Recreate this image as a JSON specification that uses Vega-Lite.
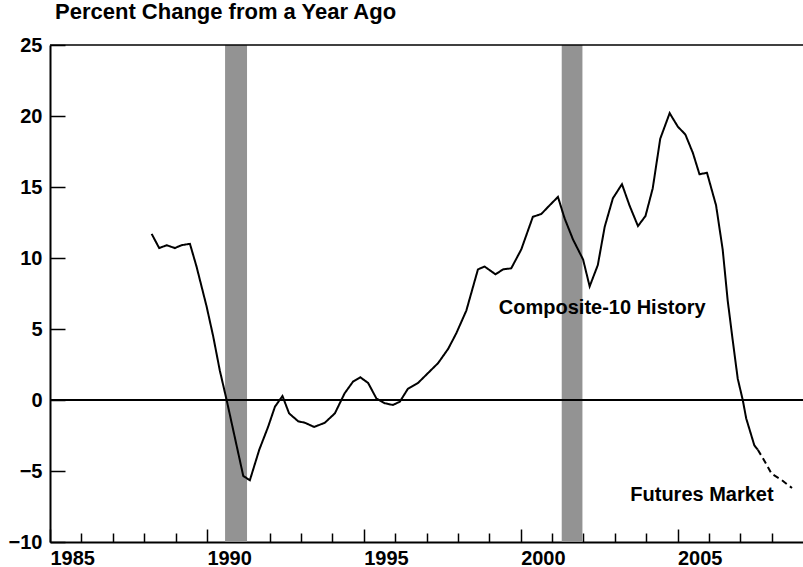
{
  "$schema": "https://vega.github.io/schema/vega-lite/v6.json",
  "width": 753,
  "height": 497,
  "autosize": {"type": "none"},
  "padding": {"left": 50, "top": 45, "right": 0, "bottom": 25},
  "background": "white",
  "title": {
    "text": "Percent Change from a Year Ago",
    "anchor": "start",
    "frame": "group",
    "fontSize": 22,
    "font": "Liberation Sans",
    "fontWeight": "bold",
    "color": "black",
    "dx": 5,
    "offset": 11
  },
  "config": {
    "view": {"stroke": null},
    "axis": {
      "labelFont": "Liberation Sans",
      "labelFontWeight": "bold",
      "labelFontSize": 20,
      "labelColor": "black",
      "domainColor": "black",
      "tickColor": "black",
      "grid": false,
      "title": null,
      "zindex": 1
    }
  },
  "datasets": {
    "recessions": [
      {"start": 1990.58, "end": 1991.28},
      {"start": 2001.31, "end": 2001.97}
    ],
    "hpi": [
      {"year": 1988.24, "value": 11.7, "series": "History"},
      {"year": 1988.48, "value": 10.7, "series": "History"},
      {"year": 1988.72, "value": 10.9, "series": "History"},
      {"year": 1988.98, "value": 10.7, "series": "History"},
      {"year": 1989.19, "value": 10.9, "series": "History"},
      {"year": 1989.46, "value": 11.0, "series": "History"},
      {"year": 1989.67, "value": 9.4, "series": "History"},
      {"year": 1989.99, "value": 6.6, "series": "History"},
      {"year": 1990.2, "value": 4.5, "series": "History"},
      {"year": 1990.41, "value": 2.1, "series": "History"},
      {"year": 1990.63, "value": 0.0, "series": "History"},
      {"year": 1991.16, "value": -5.35, "series": "History"},
      {"year": 1991.37, "value": -5.65, "series": "History"},
      {"year": 1991.67, "value": -3.5, "series": "History"},
      {"year": 1991.95, "value": -1.9, "series": "History"},
      {"year": 1992.17, "value": -0.47, "series": "History"},
      {"year": 1992.41, "value": 0.28, "series": "History"},
      {"year": 1992.62, "value": -0.94, "series": "History"},
      {"year": 1992.91, "value": -1.5, "series": "History"},
      {"year": 1993.12, "value": -1.6, "series": "History"},
      {"year": 1993.42, "value": -1.9, "series": "History"},
      {"year": 1993.76, "value": -1.6, "series": "History"},
      {"year": 1994.08, "value": -0.94, "series": "History"},
      {"year": 1994.39, "value": 0.47, "series": "History"},
      {"year": 1994.66, "value": 1.3, "series": "History"},
      {"year": 1994.89, "value": 1.6, "series": "History"},
      {"year": 1995.14, "value": 1.2, "series": "History"},
      {"year": 1995.4, "value": 0.12, "series": "History"},
      {"year": 1995.67, "value": -0.23, "series": "History"},
      {"year": 1995.93, "value": -0.35, "series": "History"},
      {"year": 1996.15, "value": -0.12, "series": "History"},
      {"year": 1996.41, "value": 0.8, "series": "History"},
      {"year": 1996.73, "value": 1.2, "series": "History"},
      {"year": 1997.05, "value": 1.9, "series": "History"},
      {"year": 1997.37, "value": 2.6, "series": "History"},
      {"year": 1997.69, "value": 3.6, "series": "History"},
      {"year": 1997.95, "value": 4.7, "series": "History"},
      {"year": 1998.27, "value": 6.3, "series": "History"},
      {"year": 1998.64, "value": 9.2, "series": "History"},
      {"year": 1998.85, "value": 9.4, "series": "History"},
      {"year": 1999.2, "value": 8.85, "series": "History"},
      {"year": 1999.44, "value": 9.2, "series": "History"},
      {"year": 1999.7, "value": 9.27, "series": "History"},
      {"year": 2000.02, "value": 10.6, "series": "History"},
      {"year": 2000.39, "value": 12.9, "series": "History"},
      {"year": 2000.66, "value": 13.1, "series": "History"},
      {"year": 2000.92, "value": 13.7, "series": "History"},
      {"year": 2001.19, "value": 14.3, "series": "History"},
      {"year": 2001.4, "value": 12.8, "series": "History"},
      {"year": 2001.67, "value": 11.3, "series": "History"},
      {"year": 2001.99, "value": 9.9, "series": "History"},
      {"year": 2002.2, "value": 8.0, "series": "History"},
      {"year": 2002.46, "value": 9.5, "series": "History"},
      {"year": 2002.68, "value": 12.2, "series": "History"},
      {"year": 2002.94, "value": 14.2, "series": "History"},
      {"year": 2003.23, "value": 15.2, "series": "History"},
      {"year": 2003.47, "value": 13.7, "series": "History"},
      {"year": 2003.74, "value": 12.25, "series": "History"},
      {"year": 2003.98, "value": 12.96, "series": "History"},
      {"year": 2004.21, "value": 14.9, "series": "History"},
      {"year": 2004.45, "value": 18.4, "series": "History"},
      {"year": 2004.75, "value": 20.2, "series": "History"},
      {"year": 2005.01, "value": 19.25, "series": "History"},
      {"year": 2005.25, "value": 18.7, "series": "History"},
      {"year": 2005.49, "value": 17.4, "series": "History"},
      {"year": 2005.7, "value": 15.9, "series": "History"},
      {"year": 2005.94, "value": 16.0, "series": "History"},
      {"year": 2006.23, "value": 13.7, "series": "History"},
      {"year": 2006.44, "value": 10.6, "series": "History"},
      {"year": 2006.6, "value": 7.0, "series": "History"},
      {"year": 2006.76, "value": 4.2, "series": "History"},
      {"year": 2006.92, "value": 1.5, "series": "History"},
      {"year": 2007.08, "value": 0.0, "series": "History"},
      {"year": 2007.19, "value": -1.3, "series": "History"},
      {"year": 2007.45, "value": -3.2, "series": "History"},
      {"year": 2007.56, "value": -3.5, "series": "History"},
      {"year": 2007.56, "value": -3.5, "series": "Futures"},
      {"year": 2007.8, "value": -4.4, "series": "Futures"},
      {"year": 2008.0, "value": -5.2, "series": "Futures"},
      {"year": 2008.3, "value": -5.6, "series": "Futures"},
      {"year": 2008.65, "value": -6.2, "series": "Futures"}
    ]
  },
  "layer": [
    {
      "data": {"name": "recessions"},
      "mark": {"type": "rect", "color": "#939393"},
      "encoding": {
        "x": {
          "field": "start",
          "type": "quantitative",
          "scale": {"domain": [1985, 2009], "nice": false, "zero": false},
          "axis": {
            "orient": "bottom",
            "values": [1986, 1987, 1988, 1989, 1991, 1992, 1993, 1994, 1996, 1997, 1998, 1999, 2001, 2002, 2003, 2004, 2006, 2007, 2008],
            "tickSize": -9,
            "tickWidth": 1.5,
            "labels": false,
            "domain": false
          }
        },
        "x2": {"field": "end"}
      }
    },
    {
      "data": {"values": [{}]},
      "mark": {"type": "rule", "color": "black", "strokeWidth": 2},
      "encoding": {"y": {"datum": 0}}
    },
    {
      "data": {"values": [{}]},
      "mark": {"type": "rule", "color": "black", "strokeWidth": 1.5},
      "encoding": {"y": {"datum": 25}}
    },
    {
      "data": {"name": "hpi"},
      "mark": {"type": "line", "color": "black", "strokeWidth": 2},
      "encoding": {
        "x": {
          "field": "year",
          "type": "quantitative",
          "scale": {"domain": [1985, 2009], "nice": false, "zero": false},
          "axis": {
            "orient": "bottom",
            "values": [1985, 1990, 1995, 2000, 2005],
            "format": "d",
            "tickSize": -13,
            "tickWidth": 1.5,
            "domainWidth": 2,
            "labelAlign": "left",
            "labelDx": -7,
            "labelFlush": false,
            "labelPadding": 19,
            "labelBaseline": "top"
          }
        },
        "y": {
          "field": "value",
          "type": "quantitative",
          "scale": {"domain": [-10, 25], "nice": false, "zero": false},
          "axis": {
            "values": [-10, -5, 0, 5, 10, 15, 20, 25],
            "tickSize": -15,
            "tickWidth": 1.5,
            "domainWidth": 2,
            "labelFlush": false,
            "labelPadding": 23,
            "labelAlign": "right",
            "labelBaseline": "middle"
          }
        },
        "strokeDash": {
          "field": "series",
          "type": "nominal",
          "scale": {"domain": ["History", "Futures"], "range": [[1, 0], [6, 4]]},
          "legend": null
        }
      }
    },
    {
      "data": {"values": [{}]},
      "mark": {"type": "text", "font": "Liberation Sans", "fontWeight": "bold", "fontSize": 20, "color": "black", "align": "center", "baseline": "middle"},
      "encoding": {
        "x": {"datum": 2002.6, "axis": null},
        "y": {"datum": 6.5},
        "text": {"value": "Composite-10 History"}
      }
    },
    {
      "data": {"values": [{}]},
      "mark": {"type": "text", "font": "Liberation Sans", "fontWeight": "bold", "fontSize": 20, "color": "black", "align": "center", "baseline": "middle"},
      "encoding": {
        "x": {"datum": 2005.78, "axis": null},
        "y": {"datum": -6.7},
        "text": {"value": "Futures Market"}
      }
    }
  ],
  "resolve": {"axis": {"x": "independent"}}
}
